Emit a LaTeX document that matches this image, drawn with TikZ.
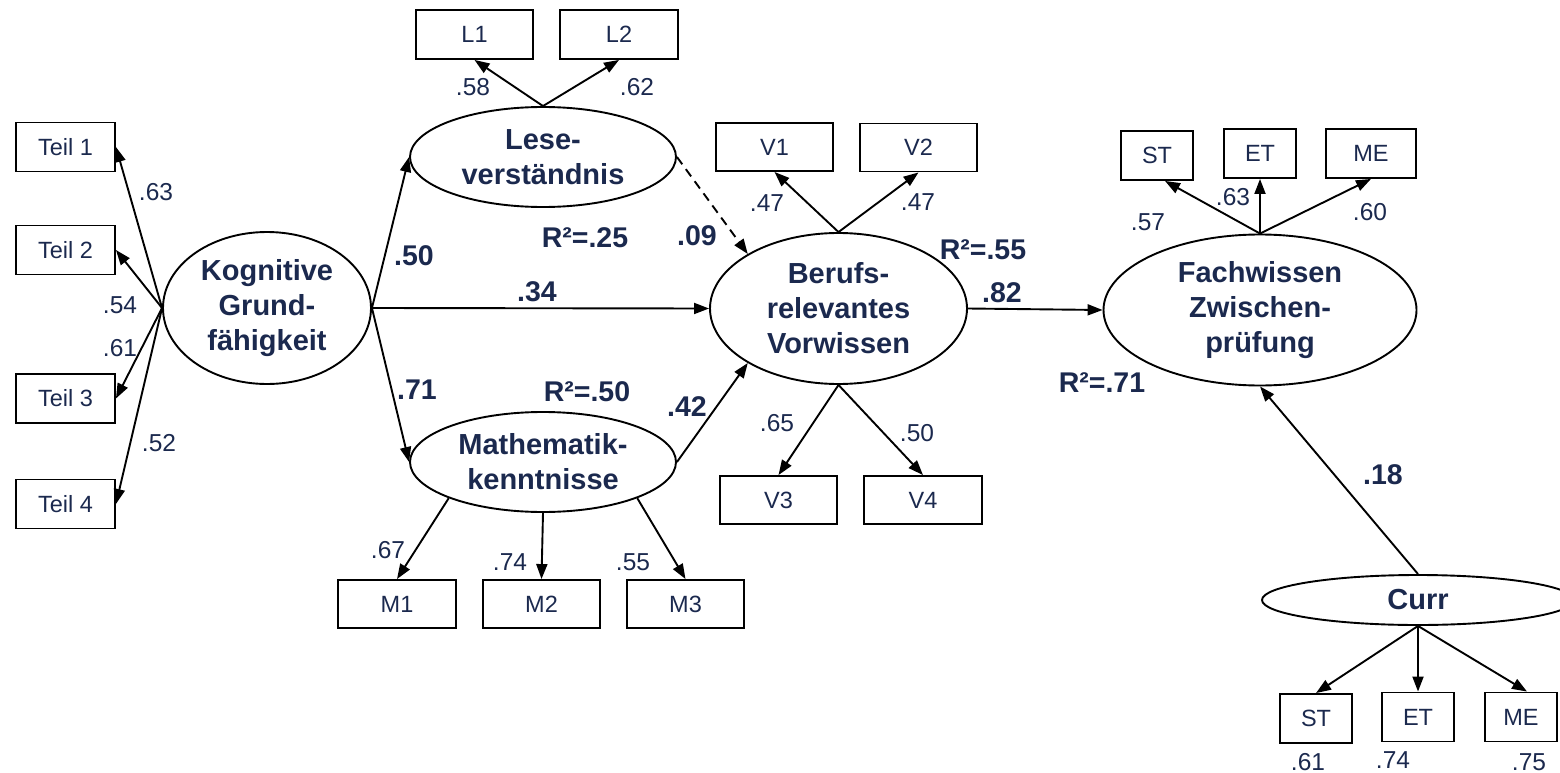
\documentclass[tikz,border=0pt]{standalone}
\usepackage{fontspec}
\setmainfont{Liberation Sans}
\usetikzlibrary{shapes.geometric,arrows.meta,calc}
\definecolor{ink}{RGB}{27,41,78}
\begin{document}
\begin{tikzpicture}[x=1pt,y=-1pt,
  latent/.style={ellipse,draw,line width=1.9pt,inner sep=0pt,text=ink,
    font=\fontsize{29}{35}\selectfont\bfseries,align=center},
  manifest/.style={rectangle,draw,line width=1.9pt,inner sep=0pt,minimum height=49pt,
    text=ink,font=\fontsize{23.5}{28}\selectfont},
  load/.style={text=ink,font=\fontsize{24.5}{29}\selectfont,inner sep=0pt},
  coef/.style={text=ink,font=\fontsize{28.5}{34}\selectfont\bfseries,inner sep=0pt},
  effect/.style={line width=1.9pt,-{Triangle[length=15pt,width=11pt]}},
  weak/.style={effect,dash pattern=on 9pt off 6pt},
]
\useasboundingbox (0,0) rectangle (1560,773);

% latent variables
\node[latent,minimum width=208pt,minimum height=152pt] (kog) at (267,308) {Kognitive\\Grund-\\fähigkeit};
\node[latent,minimum width=266pt,minimum height=100pt] (lese) at (543,157) {Lese-\\verständnis};
\node[latent,minimum width=266pt,minimum height=100pt] (mathe) at (543,462) {Mathematik-\\kenntnisse};
\node[latent,minimum width=257pt,minimum height=151pt] (beruf) at (838.5,308.5) {Berufs-\\relevantes\\Vorwissen};
\node[latent,minimum width=313pt,minimum height=151pt] (fach) at (1260,310) {Fachwissen\\Zwischen-\\prüfung};
\node[latent,minimum width=312pt,minimum height=50pt] (curr) at (1418,600) {Curr};

% indicators
\node[manifest,minimum width=99pt] (teil1) at (65.5,147) {Teil 1};
\node[manifest,minimum width=99pt] (teil2) at (65.5,250) {Teil 2};
\node[manifest,minimum width=99pt] (teil3) at (65.5,398.5) {Teil 3};
\node[manifest,minimum width=99pt] (teil4) at (65.5,504) {Teil 4};
\node[manifest,minimum width=117pt] (l1) at (474.5,34.5) {L1};
\node[manifest,minimum width=118pt] (l2) at (619,34.5) {L2};
\node[manifest,minimum width=117pt,minimum height=48pt] (v1) at (774.5,147) {V1};
\node[manifest,minimum width=117pt,minimum height=48pt] (v2) at (918.5,147.5) {V2};
\node[manifest,minimum width=117pt,minimum height=48pt] (v3) at (778.5,500) {V3};
\node[manifest,minimum width=118pt,minimum height=48pt] (v4) at (923,500) {V4};
\node[manifest,minimum width=118pt,minimum height=48pt] (m1) at (397,604) {M1};
\node[manifest,minimum width=117pt,minimum height=48pt] (m2) at (541.5,604) {M2};
\node[manifest,minimum width=117pt,minimum height=48pt] (m3) at (685.5,604) {M3};
\node[manifest,minimum width=72pt] (fst) at (1157,155.5) {ST};
\node[manifest,minimum width=72pt] (fet) at (1260,153.5) {ET};
\node[manifest,minimum width=90pt] (fme) at (1371,153.5) {ME};
\node[manifest,minimum width=72pt] (cst) at (1316,718.5) {ST};
\node[manifest,minimum width=72pt] (cet) at (1418,717) {ET};
\node[manifest,minimum width=72pt] (cme) at (1521,717) {ME};

% measurement paths
\draw[effect] (kog.west) -- (teil1.east);
\draw[effect] (kog.west) -- (teil2.east);
\draw[effect] (kog.west) -- (teil3.east);
\draw[effect] (kog.west) -- (teil4.east);
\draw[effect] (lese.north) -- (l1.south);
\draw[effect] (lese.north) -- (l2.south);
\draw[effect] (beruf.north) -- (v1.south);
\draw[effect] (beruf.north) -- (v2.south);
\draw[effect] (beruf.south) -- (v3.north);
\draw[effect] (beruf.south) -- (v4.north);
\draw[effect] (mathe.201) -- (m1.north);
\draw[effect] (mathe.south) -- (m2.north);
\draw[effect] (mathe.-21) -- (m3.north);
\draw[effect] (fach.north) -- ($(fst.south)+(8,0)$);
\draw[effect] (fach.north) -- (fet.south);
\draw[effect] (fach.north) -- (fme.south);
\draw[effect] (curr.south) -- (cst.north);
\draw[effect] (curr.south) -- (cet.north);
\draw[effect] (curr.south) -- ($(cme.north)+(6,0)$);

% structural paths
\draw[effect] (kog.east) -- (lese.west);
\draw[effect] (kog.east) -- (beruf.west);
\draw[effect] (kog.east) -- (mathe.west);
\draw[weak] (lese.east) -- (beruf.149);
\draw[effect] (mathe.east) -- (beruf.211);
\draw[effect] (beruf.east) -- (fach.west);
\draw[effect] (curr.north) -- (fach.south);

% loadings
\node[load] (k1) at (156,192) {.63};
\node[load] (k2) at (120,305) {.54};
\node[load] (k3) at (120,348) {.61};
\node[load] (k4) at (159,443) {.52};
\node[load] (ll1) at (473,87) {.58};
\node[load] (ll2) at (637,87) {.62};
\node[load] (lv1) at (767,203) {.47};
\node[load] (lv2) at (918,202) {.47};
\node[load] (lv3) at (777,423) {.65};
\node[load] (lv4) at (917,433) {.50};
\node[load] (lm1) at (388,550) {.67};
\node[load] (lm2) at (510,562) {.74};
\node[load] (lm3) at (633,562) {.55};
\node[load] (lf1) at (1148,222) {.57};
\node[load] (lf2) at (1233,197) {.63};
\node[load] (lf3) at (1370,212) {.60};
\node[load] (lc1) at (1308,762) {.61};
\node[load] (lc2) at (1393,760) {.74};
\node[load] (lc3) at (1529,762) {.75};

% path coefficients and explained variance
\node[coef] (b1) at (414,256) {.50};
\node[coef] (b2) at (537,292) {.34};
\node[coef] (b3) at (417,390) {.71};
\node[coef] (b4) at (697,236) {.09};
\node[coef] (b5) at (687,407) {.42};
\node[coef] (b6) at (1002,293) {.82};
\node[coef] (b7) at (1383,475) {.18};
\node[coef] (r1) at (585,238) {R²=.25};
\node[coef] (r2) at (587,392) {R²=.50};
\node[coef] (r3) at (983,250) {R²=.55};
\node[coef] (r4) at (1102,383) {R²=.71};
\end{tikzpicture}
\end{document}
